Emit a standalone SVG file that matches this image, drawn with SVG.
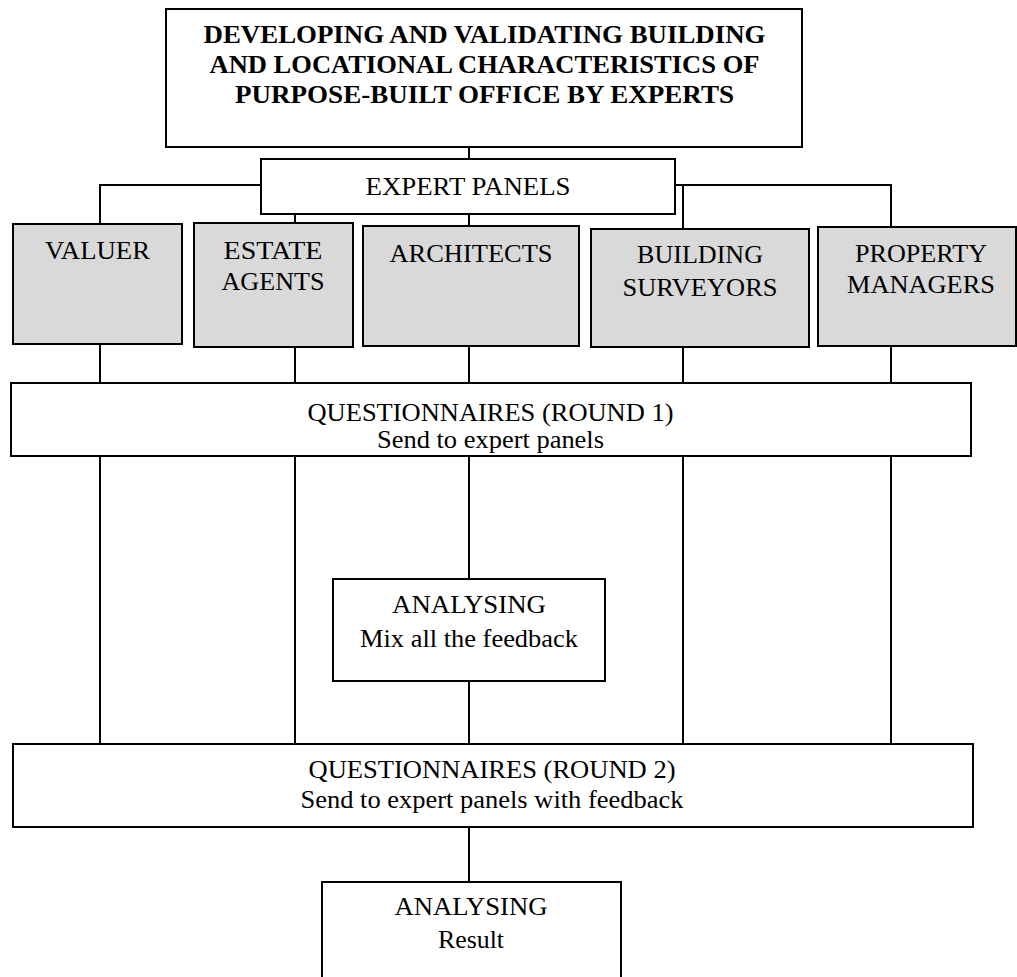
<svg xmlns="http://www.w3.org/2000/svg" width="1017" height="977" viewBox="0 0 1017 977">
<style>
  .box { fill: #ffffff; stroke: #000000; stroke-width: 2; }
  .grey { fill: #d9d9d9; stroke: #000000; stroke-width: 2; }
  .conn line { stroke: #000000; stroke-width: 2; }
  .conn polyline { fill: none; stroke: #000000; stroke-width: 2; }
  text { font-family: "Liberation Serif", "Times New Roman", serif; font-size: 26px; fill: #000000; text-anchor: middle; }
  .title { font-weight: bold; font-size: 25px; }
</style>
<rect x="0" y="0" width="1017" height="977" fill="#ffffff"/>
<g id="connectors" class="conn">
  <line x1="469" y1="147" x2="469" y2="159"/>
  <polyline points="261,185 100,185 100,224"/>
  <polyline points="675,185 891,185 891,227"/>
  <line x1="683" y1="185" x2="683" y2="229"/>
  <line x1="295" y1="214" x2="295" y2="223"/>
  <line x1="469" y1="214" x2="469" y2="226"/>
  <line x1="100" y1="344" x2="100" y2="383"/>
  <line x1="295" y1="347" x2="295" y2="383"/>
  <line x1="469" y1="346" x2="469" y2="383"/>
  <line x1="683" y1="347" x2="683" y2="383"/>
  <line x1="891" y1="346" x2="891" y2="383"/>
  <line x1="100" y1="456" x2="100" y2="744"/>
  <line x1="295" y1="456" x2="295" y2="744"/>
  <line x1="683" y1="456" x2="683" y2="744"/>
  <line x1="891" y1="456" x2="891" y2="744"/>
  <line x1="469" y1="456" x2="469" y2="579"/>
  <line x1="469" y1="681" x2="469" y2="744"/>
  <line x1="469" y1="827" x2="469" y2="882"/>
</g>
<g id="title">
  <rect class="box" x="166" y="9" width="636" height="138"/>
  <text class="title" x="484.5" y="43" textLength="562" lengthAdjust="spacingAndGlyphs">DEVELOPING AND VALIDATING BUILDING</text>
  <text class="title" x="484.5" y="73" textLength="550" lengthAdjust="spacingAndGlyphs">AND LOCATIONAL CHARACTERISTICS OF</text>
  <text class="title" x="484.5" y="103" textLength="499" lengthAdjust="spacingAndGlyphs">PURPOSE-BUILT OFFICE BY EXPERTS</text>
</g>
<g id="expert-panels">
  <rect class="box" x="261" y="159" width="414" height="55"/>
  <text x="468" y="195" textLength="205" lengthAdjust="spacingAndGlyphs">EXPERT PANELS</text>
</g>
<g id="valuer">
  <rect class="grey" x="13" y="224" width="169" height="120"/>
  <text x="97.5" y="259" textLength="105" lengthAdjust="spacingAndGlyphs">VALUER</text>
</g>
<g id="estate-agents">
  <rect class="grey" x="194" y="223" width="159" height="124"/>
  <text x="273" y="259" textLength="99" lengthAdjust="spacingAndGlyphs">ESTATE</text>
  <text x="273" y="290" textLength="103" lengthAdjust="spacingAndGlyphs">AGENTS</text>
</g>
<g id="architects">
  <rect class="grey" x="363" y="226" width="216" height="120"/>
  <text x="471" y="262" textLength="163" lengthAdjust="spacingAndGlyphs">ARCHITECTS</text>
</g>
<g id="building-surveyors">
  <rect class="grey" x="591" y="229" width="218" height="118"/>
  <text x="700" y="263" textLength="126" lengthAdjust="spacingAndGlyphs">BUILDING</text>
  <text x="700" y="296" textLength="155" lengthAdjust="spacingAndGlyphs">SURVEYORS</text>
</g>
<g id="property-managers">
  <rect class="grey" x="818" y="227" width="198" height="119"/>
  <text x="921" y="262" textLength="132" lengthAdjust="spacingAndGlyphs">PROPERTY</text>
  <text x="921" y="293" textLength="148" lengthAdjust="spacingAndGlyphs">MANAGERS</text>
</g>
<g id="questionnaires-round-1">
  <rect class="box" x="11" y="383" width="960" height="73"/>
  <text x="490.5" y="421" textLength="366" lengthAdjust="spacingAndGlyphs">QUESTIONNAIRES (ROUND 1)</text>
  <text x="490.5" y="448" textLength="227" lengthAdjust="spacingAndGlyphs">Send to expert panels</text>
</g>
<g id="analysing-1">
  <rect class="box" x="333" y="579" width="272" height="102"/>
  <text x="469" y="613" textLength="154" lengthAdjust="spacingAndGlyphs">ANALYSING</text>
  <text x="469" y="647" textLength="218" lengthAdjust="spacingAndGlyphs">Mix all the feedback</text>
</g>
<g id="questionnaires-round-2">
  <rect class="box" x="13" y="744" width="960" height="83"/>
  <text x="492" y="778" textLength="367" lengthAdjust="spacingAndGlyphs">QUESTIONNAIRES (ROUND 2)</text>
  <text x="492" y="808" textLength="383" lengthAdjust="spacingAndGlyphs">Send to expert panels with feedback</text>
</g>
<g id="analysing-2">
  <rect class="box" x="322" y="882" width="299" height="110"/>
  <text x="471" y="915" textLength="153" lengthAdjust="spacingAndGlyphs">ANALYSING</text>
  <text x="471" y="948" textLength="66" lengthAdjust="spacingAndGlyphs">Result</text>
</g>
</svg>
